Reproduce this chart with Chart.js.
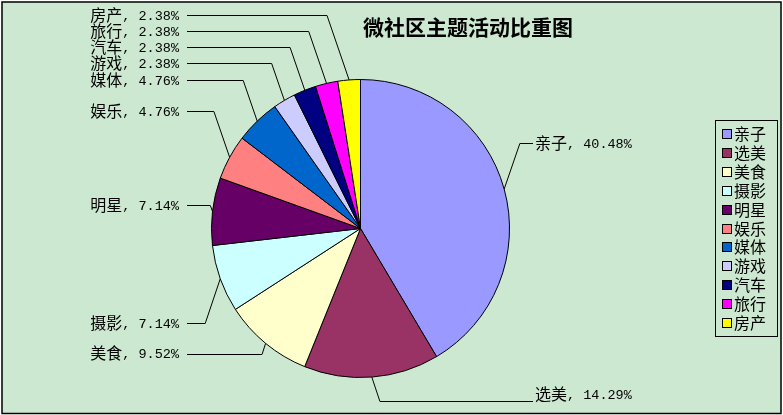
<!DOCTYPE html>
<html>
<head>
<meta charset="utf-8">
<script src="https://cdn.jsdelivr.net/npm/chart.js@4"></script>
<style>
html,body{margin:0;padding:0;background:#fff;}
canvas{display:block;}
</style>
</head>
<body>
<canvas id="c" width="783" height="415"></canvas>
<script>
const chartTitle = '微社区主题活动比重图';
const categories = ['亲子','选美','美食','摄影','明星','娱乐','媒体','游戏','汽车','旅行','房产'];
const shares = [40.48, 14.29, 9.52, 7.14, 7.14, 4.76, 4.76, 2.38, 2.38, 2.38, 2.38];
const sliceColors = ['#9999FF','#993366','#FFFFCC','#CCFFFF','#660066','#FF8080','#0066CC','#CCCCFF','#000080','#FF00FF','#FFFF00'];

// label placement (layout only): side and vertical position of each data label
const labelLayout = [
  {side:'right', textY:143, lineY:143},
  {side:'right', textY:394, lineY:401},
  {side:'left', textY:353, lineY:354},
  {side:'left', textY:323, lineY:323},
  {side:'left', textY:205, lineY:205},
  {side:'left', textY:111, lineY:111},
  {side:'left', textY:80, lineY:80},
  {side:'left', textY:63, lineY:63},
  {side:'left', textY:47, lineY:47},
  {side:'left', textY:31, lineY:31},
  {side:'left', textY:15, lineY:15}
];
const LEFT_TEXT_END = 179, LEFT_LINE_START = 187;
const RIGHT_TEXT_START = 535, RIGHT_LINE_END = 533;
const CJK_FONT = '16px "Noto Sans CJK SC"';
const NUM_FONT = '13.5px "Liberation Mono", "DejaVu Sans Mono", monospace';

const bgPlugin = {
  id: 'bg',
  beforeDraw(chart) {
    const ctx = chart.ctx;
    ctx.save();
    ctx.fillStyle = '#ffffff';
    ctx.fillRect(0, 0, chart.width, chart.height);
    ctx.fillStyle = '#CDE8D0';
    ctx.fillRect(2, 2, chart.width - 4, chart.height - 4);
    ctx.strokeStyle = '#000';
    ctx.lineWidth = 1.5;
    ctx.strokeRect(2, 2, chart.width - 4, chart.height - 3.5);
    ctx.restore();
  }
};

const decoPlugin = {
  id: 'deco',
  afterDatasetsDraw(chart) {
    const ctx = chart.ctx;
    const meta = chart.getDatasetMeta(0);
    const labels = chart.data.labels;
    const values = chart.data.datasets[0].data;
    ctx.save();
    // data labels with leader lines
    meta.data.forEach((arc, i) => {
      const p = arc.getProps(['x','y','startAngle','endAngle','outerRadius'], true);
      const mid = (p.startAngle + p.endAngle) / 2;
      const ex = p.x + p.outerRadius * Math.cos(mid);
      const ey = p.y + p.outerRadius * Math.sin(mid);
      const lay = labelLayout[i];
      const dy = Math.abs(lay.lineY - ey);
      ctx.strokeStyle = '#000';
      ctx.lineWidth = 1;
      ctx.beginPath();
      if (lay.side === 'left') {
        const bx = Math.max(ex - 0.34 * dy, LEFT_LINE_START);
        ctx.moveTo(ex, ey);
        ctx.lineTo(bx, lay.lineY + 0.5);
        ctx.lineTo(LEFT_LINE_START, lay.lineY + 0.5);
      } else {
        const bx = Math.min(ex + 0.34 * dy, RIGHT_LINE_END);
        ctx.moveTo(ex, ey);
        ctx.lineTo(bx, lay.lineY + 0.5);
        ctx.lineTo(RIGHT_LINE_END, lay.lineY + 0.5);
      }
      ctx.stroke();

      const name = labels[i];
      const num = ', ' + Number(values[i]).toFixed(2) + '%';
      ctx.font = CJK_FONT;
      const w1 = ctx.measureText(name).width;
      ctx.font = NUM_FONT;
      const w2 = ctx.measureText(num).width;
      const x0 = lay.side === 'left' ? LEFT_TEXT_END - w1 - w2 : RIGHT_TEXT_START;
      ctx.fillStyle = '#000';
      ctx.textBaseline = 'middle';
      ctx.textAlign = 'left';
      ctx.font = CJK_FONT;
      ctx.fillText(name, x0, lay.textY);
      ctx.font = NUM_FONT;
      ctx.fillText(num, x0 + w1, lay.textY + 1);
    });

    // title
    ctx.font = 'bold 21px "Noto Sans CJK SC"';
    ctx.textAlign = 'center';
    ctx.textBaseline = 'middle';
    ctx.fillStyle = '#000';
    ctx.fillText(chartTitle, 468, 27);

    // legend
    const lx = 715, ly = 120, lw = 62, lh = 216;
    ctx.lineWidth = 1;
    ctx.strokeStyle = '#000';
    ctx.strokeRect(lx + 0.5, ly + 0.5, lw, lh);
    const step = 18.9;
    labels.forEach((lab, i) => {
      const cy = 134 + i * step;
      ctx.fillStyle = chart.data.datasets[0].backgroundColor[i];
      ctx.fillRect(722, Math.round(cy - 5), 10, 10);
      ctx.strokeStyle = '#000';
      ctx.strokeRect(722.5, Math.round(cy - 5) + 0.5, 9, 9);
      ctx.fillStyle = '#000';
      ctx.font = CJK_FONT;
      ctx.textAlign = 'left';
      ctx.textBaseline = 'middle';
      ctx.fillText(lab, 734, cy);
    });
    ctx.restore();
  }
};

new Chart(document.getElementById('c'), {
  type: 'pie',
  data: {
    labels: categories,
    datasets: [{
      data: shares,
      backgroundColor: sliceColors,
      borderColor: '#000',
      borderWidth: 1
    }]
  },
  options: {
    responsive: false,
    animation: false,
    devicePixelRatio: 1,
    layout: { padding: { left: 211, right: 273, top: 79, bottom: 37 } },
    plugins: {
      legend: { display: false },
      title: { display: false },
      tooltip: { enabled: false }
    }
  },
  plugins: [bgPlugin, decoPlugin]
});
</script>
</body>
</html>
